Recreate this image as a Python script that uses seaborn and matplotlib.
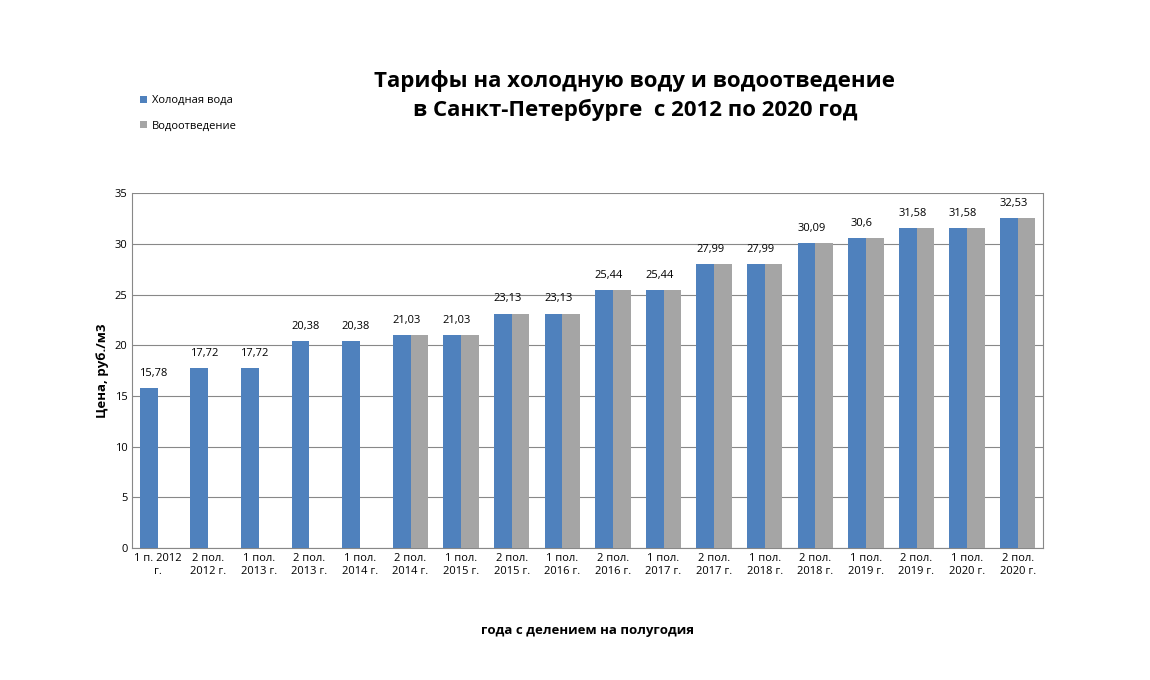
import numpy as np
import pandas as pd
import matplotlib
matplotlib.use("Agg")
import matplotlib.pyplot as plt
import seaborn as sns

periods = ["1 п. 2012\nг.", "2 пол.\n2012 г.", "1 пол.\n2013 г.", "2 пол.\n2013 г.",
           "1 пол.\n2014 г.", "2 пол.\n2014 г.", "1 пол.\n2015 г.", "2 пол.\n2015 г.",
           "1 пол.\n2016 г.", "2 пол.\n2016 г.", "1 пол.\n2017 г.", "2 пол.\n2017 г.",
           "1 пол.\n2018 г.", "2 пол.\n2018 г.", "1 пол.\n2019 г.", "2 пол.\n2019 г.",
           "1 пол.\n2020 г.", "2 пол.\n2020 г."]
cold_water = [15.78, 17.72, 17.72, 20.38, 20.38, 21.03, 21.03, 23.13, 23.13,
              25.44, 25.44, 27.99, 27.99, 30.09, 30.6, 31.58, 31.58, 32.53]
sewage = [np.nan, np.nan, np.nan, np.nan, np.nan, 21.03, 21.03, 23.13, 23.13,
          25.44, 25.44, 27.99, 27.99, 30.09, 30.6, 31.58, 31.58, 32.53]

df = pd.DataFrame({
    "period": periods * 2,
    "value": cold_water + sewage,
    "series": ["Холодная вода"] * len(periods) + ["Водоотведение"] * len(periods),
})

plt.rcParams["font.family"] = "Open Sans"
fig = plt.figure(figsize=(11.5, 6.8), dpi=100)
ax = fig.add_axes([0.115, 0.194, 0.792, 0.522])

sns.barplot(data=df, x="period", y="value", hue="series",
            palette=["#4f81bd", "#a5a5a5"], width=0.7, saturation=1,
            ax=ax, legend=True, zorder=3)

for i, v in enumerate(cold_water):
    ax.text(i - 0.08, v + 0.9, f"{v:g}".replace(".", ","), ha="center", va="bottom", fontsize=8)

ax.set_ylim(0, 35)
ax.set_yticks(range(0, 36, 5))
ax.set_xlim(-0.5, len(periods) - 0.5)
ax.grid(axis="y", color="#888888", linewidth=0.8, zorder=0)
ax.tick_params(axis="both", labelsize=8, length=0)
ax.spines["top"].set_visible(False)
for s in ["left", "bottom", "right"]:
    ax.spines[s].set_color("#888888")
ax.set_ylabel("Цена, руб./м3", fontsize=9.5, fontweight="bold")
ax.set_xlabel("года с делением на полугодия", fontsize=9.5, fontweight="bold", labelpad=34)

handles, labels = ax.get_legend_handles_labels()
ax.get_legend().remove()
fig.legend(handles, labels, loc="upper left", bbox_to_anchor=(0.113, 0.875), frameon=False,
           fontsize=8, handlelength=0.6, handleheight=0.6, labelspacing=1.3,
           handletextpad=0.5)

fig.text(0.552, 0.86, "Тарифы на холодную воду и водоотведение\nв Санкт-Петербурге  с 2012 по 2020 год",
         ha="center", va="center", fontsize=16, fontweight="bold", linespacing=1.4)

fig.savefig("out.png", dpi=100)
